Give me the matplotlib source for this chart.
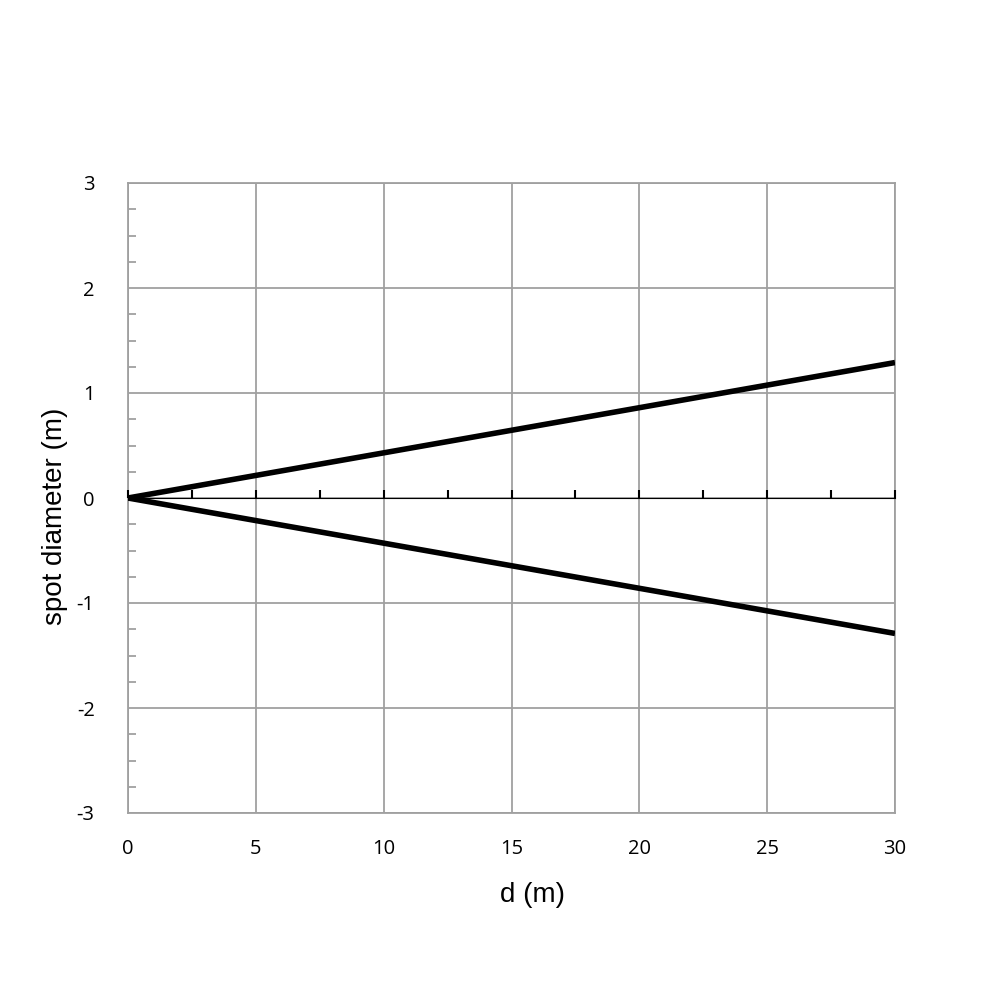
import matplotlib
matplotlib.use('Agg')
import matplotlib.pyplot as plt
from matplotlib.ticker import MultipleLocator

plt.rcParams['axes.unicode_minus'] = False

# spot diameter vs distance: upper and lower edge of the beam
d = [0, 30]
upper = [0, 1.29]
lower = [0, -1.29]

grid_grey = '#a0a0a0'

fig = plt.figure(figsize=(10, 10), dpi=100)
ax = fig.add_axes([0.128, 0.187, 0.767, 0.630])

ax.plot(d, upper, color='black', lw=4, solid_capstyle='butt', zorder=5)
ax.plot(d, lower, color='black', lw=4, solid_capstyle='butt', zorder=5)

ax.set_xlim(0, 30)
ax.set_ylim(-3, 3)
ax.xaxis.set_major_locator(MultipleLocator(5))
ax.yaxis.set_major_locator(MultipleLocator(1))
ax.yaxis.set_minor_locator(MultipleLocator(0.25))
ax.grid(True, which='major', color=grid_grey, lw=1.3)
ax.set_axisbelow(True)

for s in ax.spines.values():
    s.set_color(grid_grey)
    s.set_linewidth(1.3)

ax.tick_params(axis='x', which='both', length=0, pad=19)
ax.tick_params(axis='y', which='major', length=0, pad=24)
ax.tick_params(axis='y', which='minor', direction='in', length=6, width=1.3,
               color=grid_grey)
for lab in ax.get_xticklabels() + ax.get_yticklabels():
    lab.set_fontfamily('Open Sans')
    lab.set_fontsize(14.5)

# black zero line with upward ticks
zero = ax.secondary_xaxis(0.5)
zero.set_zorder(4)
zero.spines['bottom'].set_color('black')
zero.spines['bottom'].set_linewidth(1.6)
zero.xaxis.set_major_locator(MultipleLocator(5))
zero.xaxis.set_minor_locator(MultipleLocator(2.5))
zero.tick_params(axis='x', which='both', direction='out', length=6, width=1.5,
                 color='black', labelbottom=False, labeltop=False)

ax.set_xlabel('d (m)', fontsize=20, family='Liberation Sans')
ax.set_ylabel('spot diameter (m)', fontsize=20, family='Liberation Sans')
ax.xaxis.set_label_coords(0.527, -0.1095)
ax.yaxis.set_label_coords(-0.078, 0.471)

fig.savefig('out.png', dpi=100)
